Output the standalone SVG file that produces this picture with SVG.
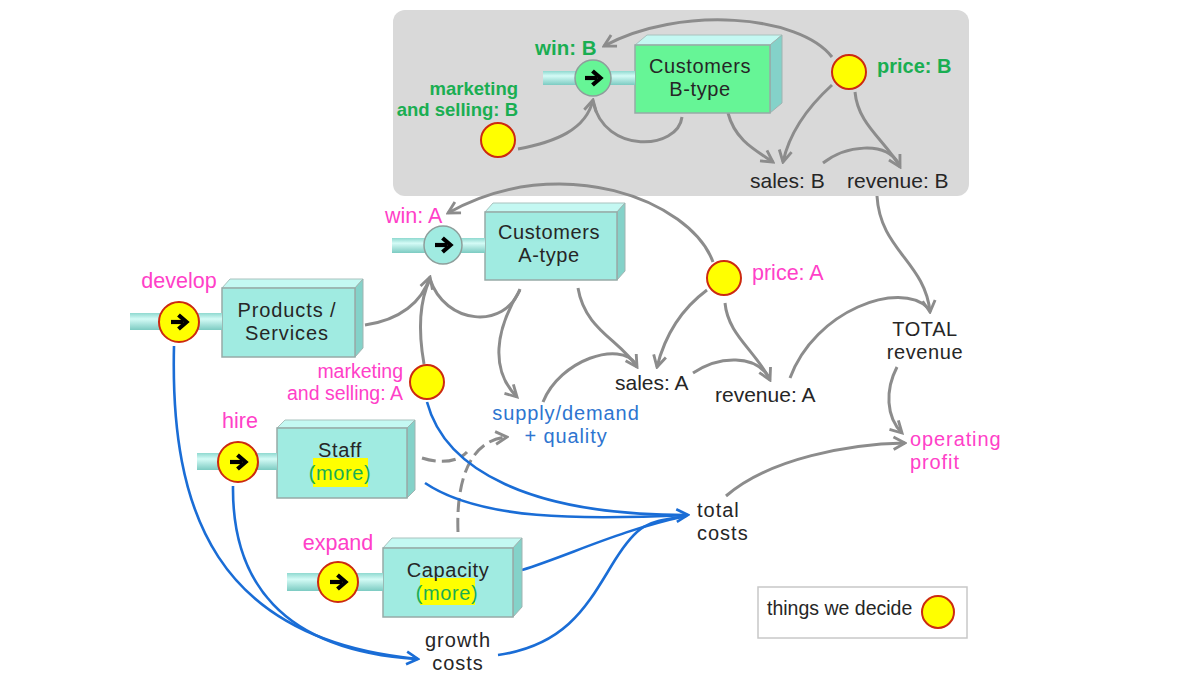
<svg xmlns="http://www.w3.org/2000/svg" xmlns:xlink="http://www.w3.org/1999/xlink" width="1200" height="675" viewBox="0 0 1200 675">
<style>
text{font-family:"Liberation Sans",Arial,sans-serif;font-size:20px;letter-spacing:0.6px;fill:#262626}
.c{text-anchor:middle}
.r{text-anchor:end}
.pk{fill:#ff40c8}
.pl{font-size:21.5px;letter-spacing:0}
.gn{fill:#1aae52;font-weight:bold;letter-spacing:0}
.gr{fill:#1aae52}
.bl{fill:#2e75d0}
.mk{font-size:19.5px;letter-spacing:0}
.s1{font-size:21px;letter-spacing:0}
.g{fill:none;stroke:#8c8c8c;stroke-width:3}
.d{stroke-dasharray:14 6}
.b{fill:none;stroke:#1a6dd6;stroke-width:2.6}
.front{fill:#a0ebe1;stroke:#97aaa7;stroke-width:1.5}
.frontB{fill:#66f596;stroke:#97aaa7;stroke-width:1.5}
.top{fill:#c4f8f2;stroke:#a9c2be;stroke-width:1}
.side{fill:#84d2c9;stroke:#a0b4b1;stroke-width:1}
.pipe{fill:url(#pg)}
.dec{fill:#ffff00;stroke:#cc2a10;stroke-width:2}
.vA{fill:#a0ebe1;stroke:#8d9e9b;stroke-width:1.5}
.vB{fill:#66f596;stroke:#8d9e9b;stroke-width:1.5}
.hl{fill:#ffff00}
</style>
<defs>
<linearGradient id="pg" x1="0" y1="0" x2="0" y2="1">
<stop offset="0" stop-color="#8fd9d0"/>
<stop offset="0.35" stop-color="#d4fbf6"/>
<stop offset="1" stop-color="#7ccbc2"/>
</linearGradient>
<marker id="mg" viewBox="0 0 14 14" refX="12" refY="7" markerWidth="16" markerHeight="16" markerUnits="userSpaceOnUse" orient="auto">
<path d="M2,1.5 L12,7 L2,12.5" fill="none" stroke="#8c8c8c" stroke-width="2.5"/>
</marker>
<marker id="mb" viewBox="0 0 14 14" refX="12" refY="7" markerWidth="16" markerHeight="16" markerUnits="userSpaceOnUse" orient="auto">
<path d="M2,1.5 L12,7 L2,12.5" fill="none" stroke="#1a6dd6" stroke-width="2.3"/>
</marker>
<g id="va">
<path d="M-8,0 H4" stroke="#000" stroke-width="4.2" fill="none"/>
<path d="M-0.5,-7 L7.5,0 L-0.5,7" fill="none" stroke="#000" stroke-width="4.2"/>
</g>
</defs>

<rect width="1200" height="675" fill="#ffffff"/>
<g id="panel-B">
<rect x="393" y="10" width="576" height="186" rx="12" fill="#d9d9d9"/>
</g>

<g id="connectors">
<path class="g" d="M832,57 C800,15 680,5 604,46" marker-end="url(#mg)"/>
<path class="g" d="M518,149 C555,142 586,130 593,100" marker-end="url(#mg)"/>
<path class="g" d="M682,117 C678,150 605,155 593,102"/>
<path class="g" d="M728,113 C735,140 755,150 773,162" marker-end="url(#mg)"/>
<path class="g" d="M832,85 C810,105 790,130 783,162" marker-end="url(#mg)"/>
<path class="g" d="M855,92 C858,125 885,140 900,167" marker-end="url(#mg)"/>
<path class="g" d="M823,163 C845,146 885,140 899,164"/>
<path class="g" d="M877,196 C880,250 925,262 930,312" marker-end="url(#mg)"/>
<path class="g" d="M790,378 C815,310 900,280 928,308"/>
<path class="g" d="M897,367 C885,390 886,417 902,433" marker-end="url(#mg)"/>
<path class="g" d="M726,496 C770,458 850,444 905,443" marker-end="url(#mg)"/>
<path class="g" d="M713,262 C690,200 560,150 448,213" marker-end="url(#mg)"/>
<path class="g" d="M365,325 C400,320 422,302 430,277" marker-end="url(#mg)"/>
<path class="g" d="M424,364 C418,330 420,300 430,279"/>
<path class="g" d="M520,289 C505,330 445,325 430,279"/>
<path class="g" d="M520,290 C495,330 490,370 517,397" marker-end="url(#mg)"/>
<path class="g" d="M578,288 C585,330 620,340 637,367" marker-end="url(#mg)"/>
<path class="g" d="M707,290 C680,310 665,335 657,367" marker-end="url(#mg)"/>
<path class="g" d="M543,402 C560,360 620,340 636,364"/>
<path class="g" d="M725,303 C728,335 755,350 770,380" marker-end="url(#mg)"/>
<path class="g" d="M693,373 C720,355 755,355 769,377"/>
<path class="g d" d="M422,458 C440,464 458,462 467,452"/>
<path class="g d" d="M458,532 C456,480 470,440 507,437" marker-end="url(#mg)"/>
<path class="b" d="M427,402 C445,470 530,515 686,515"/>
<path class="b" d="M425,483 C480,520 580,520 688,515" marker-end="url(#mb)"/>
<path class="b" d="M522,570 C570,555 620,530 686,516"/>
<path class="b" d="M498,655 C570,645 590,600 615,560 S650,522 686,516"/>
<path class="b" d="M174,346 C170,510 215,640 418,659" marker-end="url(#mb)"/>
<path class="b" d="M233,486 C232,580 280,650 416,659"/>
</g>

<g id="customers-B">
<polygon class="top" points="635,45 647,35 782,35 770,45"/>
<polygon class="side" points="770,45 782,35 782,103 770,113"/>
<rect class="frontB" x="635" y="45" width="135" height="68"/>
<text class="c"><tspan x="700" y="73">Customers</tspan><tspan x="700" y="96">B-type</tspan></text>
</g>
<g id="win-B">
<rect class="pipe" x="543" y="71" width="92" height="14"/>
<circle class="vB" cx="593" cy="78" r="18"/>
<use xlink:href="#va" x="593" y="78"/>
<text class="gn" x="535" y="55" style="font-size:20.5px">win: B</text>
</g>
<g id="marketing-B">
<circle class="dec" cx="498" cy="140" r="17"/>
<text class="gn r" style="font-size:18.5px"><tspan x="518" y="94.5">marketing</tspan><tspan x="518" y="116">and selling: B</tspan></text>
</g>
<g id="price-B">
<circle class="dec" cx="849" cy="72" r="17"/>
<text class="gn" x="877" y="73" style="font-size:20px">price: B</text>
</g>
<g id="sales-B"><text class="s1" x="750" y="188">sales: B</text></g>
<g id="revenue-B"><text class="s1" x="847" y="188">revenue: B</text></g>

<g id="customers-A">
<polygon class="top" points="485,212 493,203 625,203 617,212"/>
<polygon class="side" points="617,212 625,203 625,271 617,280"/>
<rect class="front" x="485" y="212" width="132" height="68"/>
<text class="c"><tspan x="549" y="239">Customers</tspan><tspan x="549" y="262">A-type</tspan></text>
</g>
<g id="win-A">
<rect class="pipe" x="392" y="238" width="93" height="15"/>
<circle class="vA" cx="443" cy="245" r="19"/>
<use xlink:href="#va" x="443" y="245"/>
<text class="pk pl" x="385" y="223">win: A</text>
</g>
<g id="price-A">
<circle class="dec" cx="724" cy="278" r="17"/>
<text class="pk pl" x="752" y="280">price: A</text>
</g>
<g id="sales-A"><text class="s1" x="615" y="390">sales: A</text></g>
<g id="revenue-A"><text class="s1" x="715" y="402">revenue: A</text></g>
<g id="supply-demand">
<text class="c bl" style="letter-spacing:0.9px"><tspan x="566" y="420">supply/demand</tspan><tspan x="566" y="443">+ quality</tspan></text>
</g>
<g id="marketing-A">
<circle class="dec" cx="427" cy="382" r="17"/>
<text class="pk r mk"><tspan x="403" y="377.5">marketing</tspan><tspan x="403" y="400">and selling: A</tspan></text>
</g>

<g id="products">
<polygon class="top" points="222,288 230,279 363,279 355,288"/>
<polygon class="side" points="355,288 363,279 363,348 355,357"/>
<rect class="front" x="222" y="288" width="133" height="69"/>
<text class="c" style="letter-spacing:0.9px"><tspan x="287" y="317">Products /</tspan><tspan x="287" y="340">Services</tspan></text>
</g>
<g id="develop">
<rect class="pipe" x="130" y="313" width="92" height="17"/>
<circle class="dec" cx="179" cy="322" r="20"/>
<use xlink:href="#va" x="179" y="322"/>
<text class="pk pl c" x="179" y="288">develop</text>
</g>

<g id="staff">
<polygon class="top" points="277,428 285,420 415,420 407,428"/>
<polygon class="side" points="407,428 415,420 415,490 407,498"/>
<rect class="front" x="277" y="428" width="130" height="70"/>
<rect class="hl" x="313" y="458" width="55" height="29"/>
<text class="c"><tspan x="340" y="457">Staff</tspan><tspan x="340" y="480" class="gr">(more)</tspan></text>
</g>
<g id="hire">
<rect class="pipe" x="197" y="453" width="80" height="17"/>
<circle class="dec" cx="238" cy="462" r="20"/>
<use xlink:href="#va" x="238" y="462"/>
<text class="pk pl c" x="240" y="428">hire</text>
</g>

<g id="capacity">
<polygon class="top" points="383,548 392,538 522,538 513,548"/>
<polygon class="side" points="513,548 522,538 522,607 513,617"/>
<rect class="front" x="383" y="548" width="130" height="69"/>
<rect class="hl" x="420" y="578" width="55" height="27"/>
<text class="c"><tspan x="448" y="577">Capacity</tspan><tspan x="447" y="600" class="gr">(more)</tspan></text>
</g>
<g id="expand">
<rect class="pipe" x="287" y="573" width="96" height="18"/>
<circle class="dec" cx="338" cy="582" r="20"/>
<use xlink:href="#va" x="338" y="582"/>
<text class="pk pl c" x="338" y="550">expand</text>
</g>

<g id="total-costs">
<text style="letter-spacing:1px"><tspan x="697" y="517">total</tspan><tspan x="697" y="540">costs</tspan></text>
</g>
<g id="growth-costs">
<text class="c" style="letter-spacing:1px"><tspan x="458" y="647">growth</tspan><tspan x="458" y="670">costs</tspan></text>
</g>
<g id="total-revenue">
<text class="c"><tspan x="925" y="336">TOTAL</tspan><tspan x="925" y="359">revenue</tspan></text>
</g>
<g id="operating-profit">
<text class="pk" style="letter-spacing:0.9px"><tspan x="910" y="446">operating</tspan><tspan x="910" y="469">profit</tspan></text>
</g>

<g id="legend">
<rect x="758" y="587" width="209" height="51" fill="#ffffff" stroke="#c8c8c8" stroke-width="1.5"/>
<text x="767" y="615" style="font-size:19.5px;letter-spacing:0">things we decide</text>
<circle class="dec" cx="938" cy="612" r="16"/>
</g>
</svg>
